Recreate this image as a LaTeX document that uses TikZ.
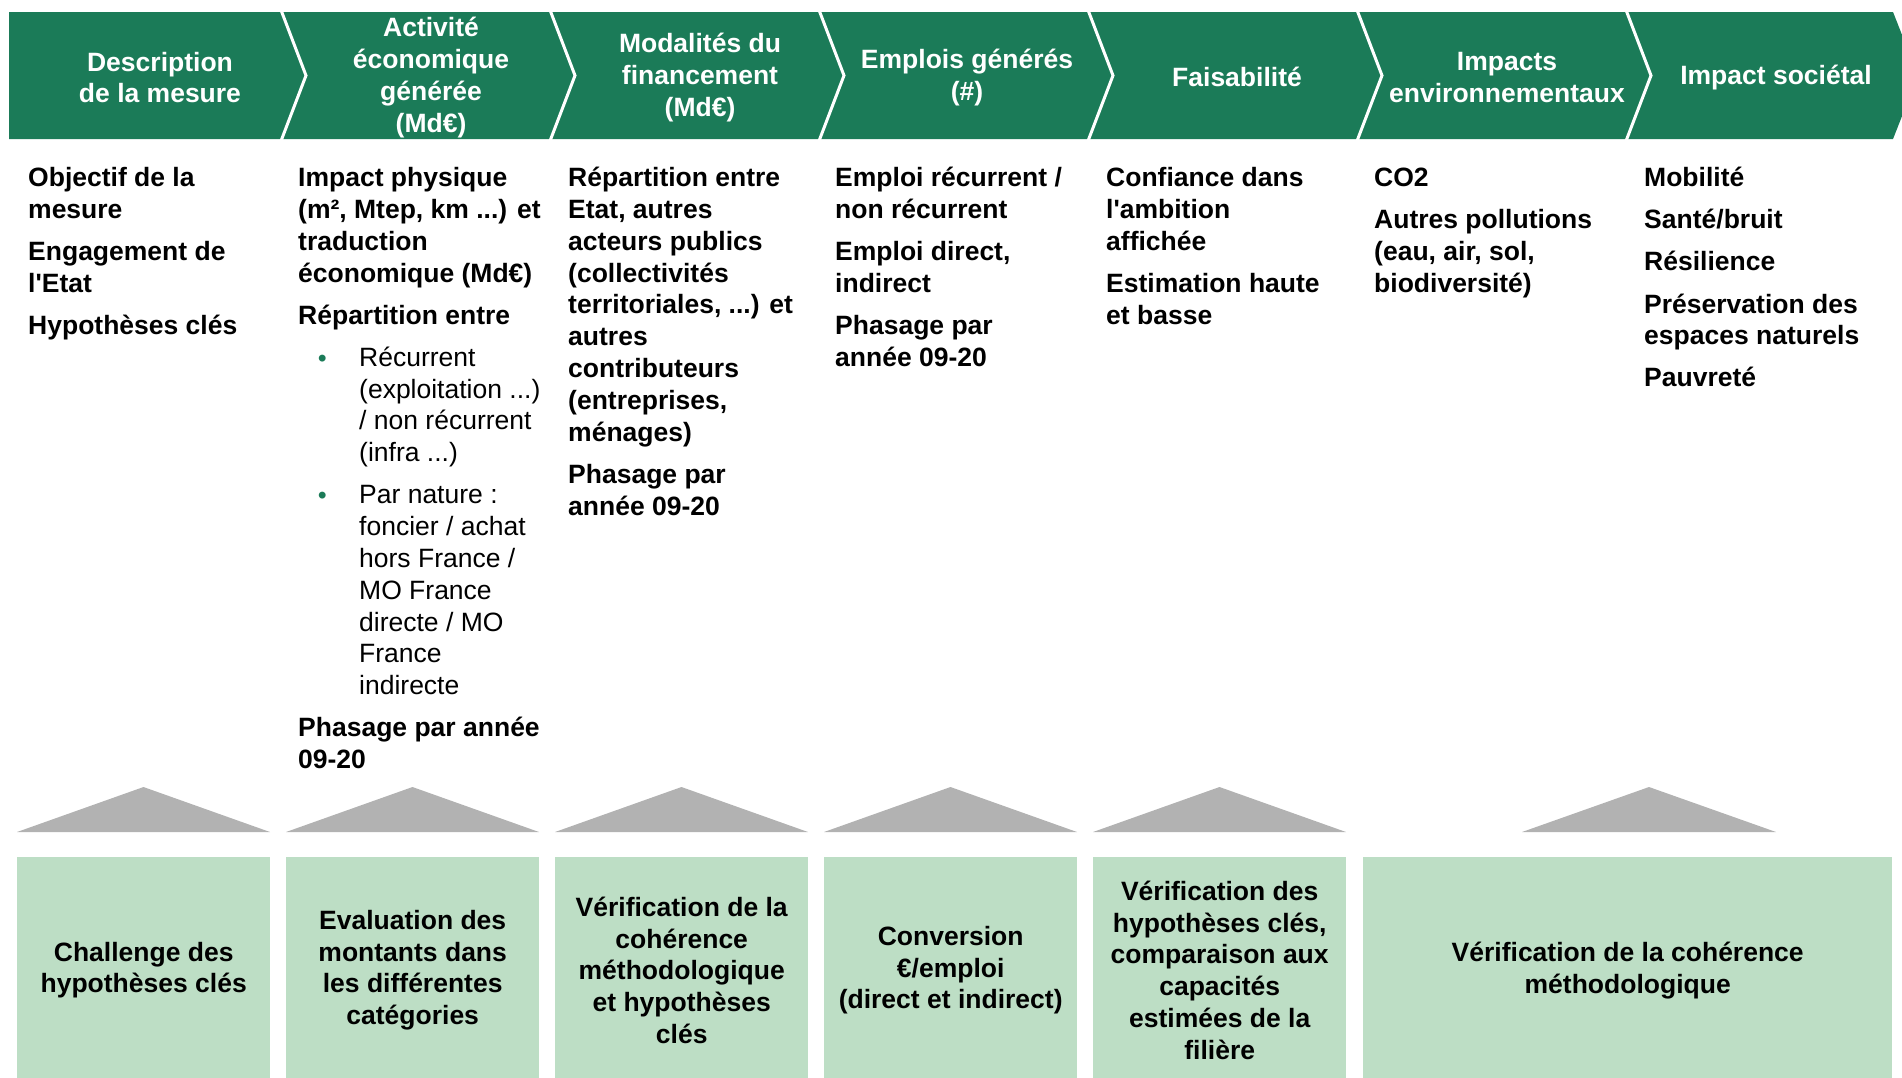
\documentclass[tikz,border=0pt]{standalone}
\usepackage{fontspec}
\setmainfont{Liberation Sans}
\definecolor{hdrgreen}{RGB}{27,123,88}
\definecolor{boxgreen}{RGB}{189,222,197}
\definecolor{roofgray}{RGB}{178,178,178}
\newcommand{\bul}[1]{\hspace*{20pt}\makebox[41pt][l]{\textcolor{hdrgreen}{\fontsize{24}{24}\selectfont •}}{\mdseries #1}}
\newcommand{\ind}[1]{\hspace*{61pt}{\mdseries #1}}
\newcommand{\fst}{\rule{0pt}{21pt}}
\begin{document}
\begin{tikzpicture}[x=1pt,y=-1pt,
  hdr/.style={text=white,font=\fontsize{26.5}{31.8}\selectfont\bfseries,align=center,inner sep=0pt},
  body/.style={anchor=north west,inner sep=0pt,align=left,font=\fontsize{26.5}{31.8}\selectfont\bfseries},
  foot/.style={fill=boxgreen,anchor=north west,inner sep=0pt,minimum width=253pt,minimum height=226pt,align=center,font=\fontsize{26.5}{31.8}\selectfont\bfseries},
  roof/.style={fill=roofgray},
  sep/.style={draw=white,line width=3pt}]
\useasboundingbox (0,0) rectangle (1902,1077);
\clip (0,0) rectangle (1902,1077);
% header band
\fill[hdrgreen] (9,12) -- (1893,12) -- (1918,75.5) -- (1893,139) -- (9,139) -- cycle;
\foreach \x in {281,550,819,1088,1357,1626}
  \draw[sep] (\x,10) -- (\x+25,75.5) -- (\x,141);
\node[hdr] (h1) at (160,77.5) {Description\\de la mesure};
\node[hdr] (h2) at (431,77.5) {Activité\\économique\\générée\\(Md€)};
\node[hdr] (h3) at (700,77.5) {Modalités du\\financement\\(Md€)};
\node[hdr] (h4) at (967,77.5) {Emplois générés\\(\#)};
\node[hdr] (h5) at (1237,77) {Faisabilité};
\node[hdr] (h6) at (1507,77.5) {Impacts\\environnementaux};
\node[hdr] (h7) at (1776,77.5) {Impact sociétal};
% body columns
\node[body] (b1) at (28,165.5) {\fst Objectif de la\\mesure\\[10.3pt]Engagement de\\l\textquotesingle Etat\\[10.3pt]Hypothèses clés};
\node[body] (b2) at (298,165.5) {\fst Impact physique\\(m², Mtep, km ...) et\\traduction\\économique (Md€)\\[10.3pt]Répartition entre\\[10.3pt]
\bul{Récurrent}\\\ind{(exploitation ...)}\\\ind{/ non récurrent}\\\ind{(infra ...)}\\[10.3pt]
\bul{Par nature :}\\\ind{foncier / achat}\\\ind{hors France /}\\\ind{MO France}\\\ind{directe / MO}\\\ind{France}\\\ind{indirecte}\\[10.3pt]
Phasage par année\\09-20};
\node[body] (b3) at (568,165.5) {\fst Répartition entre\\Etat, autres\\acteurs publics\\(collectivités\\territoriales, ...) et\\autres\\contributeurs\\(entreprises,\\ménages)\\[10.3pt]Phasage par\\année 09-20};
\node[body] (b4) at (835,165.5) {\fst Emploi récurrent /\\non récurrent\\[10.3pt]Emploi direct,\\indirect\\[10.3pt]Phasage par\\année 09-20};
\node[body] (b5) at (1106,165.5) {\fst Confiance dans\\l\textquotesingle ambition\\affichée\\[10.3pt]Estimation haute\\et basse};
\node[body] (b6) at (1374,165.5) {\fst CO2\\[10.3pt]Autres pollutions\\(eau, air, sol,\\biodiversité)};
\node[body] (b7) at (1644,165.5) {\fst Mobilité\\[10.3pt]Santé/bruit\\[10.3pt]Résilience\\[10.3pt]Préservation des\\espaces naturels\\[10.3pt]Pauvreté};
% roofs
\foreach \x in {17,286,555,824,1093}
  \fill[roof] (\x,832) -- (\x+126.5,787) -- (\x+253,832) -- cycle;
\fill[roof] (1522,832) -- (1649,787) -- (1776,832) -- cycle;
% bottom boxes
\node[foot] (f1) at (17,857) {Challenge des\\hypothèses clés};
\node[foot] (f2) at (286,857) {Evaluation des\\montants dans\\les différentes\\catégories};
\node[foot] (f3) at (555,857) {Vérification de la\\cohérence\\méthodologique\\et hypothèses\\clés};
\node[foot] (f4) at (824,857) {Conversion\\€/emploi\\(direct et indirect)};
\node[foot] (f5) at (1093,857) {Vérification des\\hypothèses clés,\\comparaison aux\\capacités\\estimées de la\\filière};
\node[foot,minimum width=529pt] (f6) at (1363,857) {Vérification de la cohérence\\méthodologique};
\end{tikzpicture}
\end{document}
